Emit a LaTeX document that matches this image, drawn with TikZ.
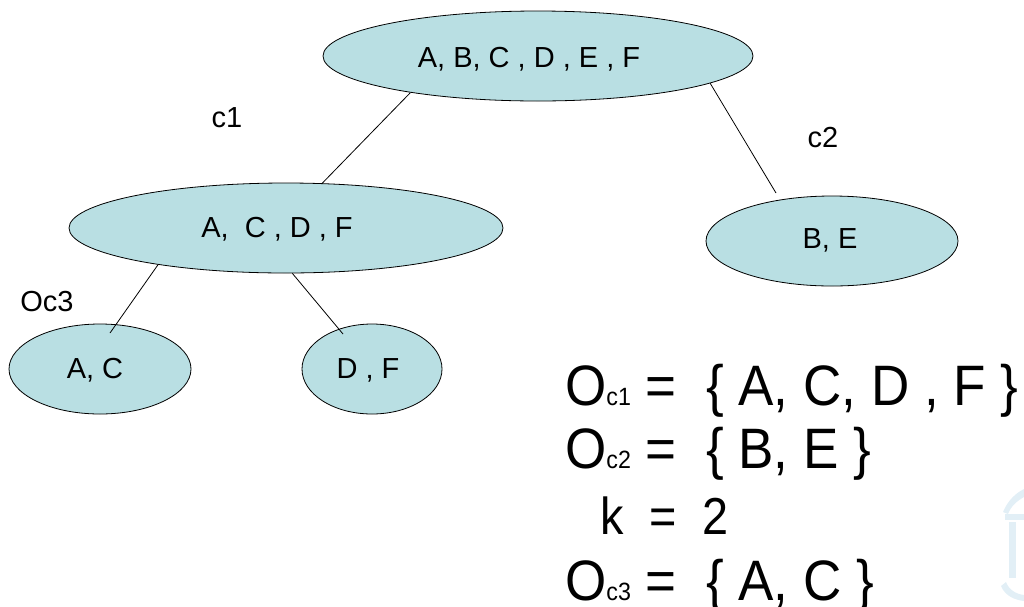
\documentclass[tikz,border=0pt]{standalone}
\usepackage{fontspec}
\usepackage{graphicx}
\setmainfont{Liberation Sans}
\usetikzlibrary{shapes.geometric}
\definecolor{blobfill}{RGB}{185,223,227}
\definecolor{logoblue}{RGB}{226,239,246}
\newcommand{\squeeze}[1]{\scalebox{0.93}[1]{#1}}
\newcommand{\sm}[1]{{\fontsize{25}{25}\selectfont #1}}
\begin{document}
\begin{tikzpicture}[x=1pt,y=-1pt,
  blob/.style={ellipse,draw=black,line width=0.8pt,fill=blobfill,inner sep=0pt,minimum height=90},
  lbl/.style={inner sep=0pt,font=\fontsize{29}{29}\selectfont},
  edge/.style={draw=black,line width=0.8pt},
  big/.style={inner sep=0pt,anchor=base west,font=\fontsize{57}{57}\selectfont}]
\useasboundingbox (0,0) rectangle (1024,606);
% faint logo
\fill[logoblue] (1003,512) .. controls (1008,500) and (1016,493) .. (1024,489) -- (1024,497) .. controls (1017,501) and (1011,506) .. (1008,514) -- cycle;
\fill[logoblue] (1005,514) rectangle (1024,520);
\fill[logoblue] (1009,522) rectangle (1016,578);
\fill[logoblue] (1001,586) .. controls (1005,596) and (1015,600) .. (1024,601) -- (1024,595) .. controls (1016,594) and (1009,590) .. (1006,582) -- cycle;
% ellipses
\node[blob,minimum width=430] (root) at (538,56) {};
\node[blob,minimum width=434] (acdf) at (286,228) {};
\node[blob,minimum width=252] (be) at (832,241) {};
\node[blob,minimum width=182] (ac) at (100,369) {};
\node[blob,minimum width=140] (df) at (372,369) {};
% texts in ellipses
\node[lbl] (roott) at (529,59) {A, B, C , D , E , F};
\node[lbl] (acdft) at (277,229) {A,\ \ C , D , F};
\node[lbl] (bet) at (830,240) {B, E};
\node[lbl] (act) at (95,370) {A, C};
\node[lbl] (dft) at (368,370) {D , F};
% connector ends
\coordinate (c2end) at (776,193);
\coordinate (acend) at (110,333);
\coordinate (dfend) at (343,334);
% connectors
\draw[edge] (root.196) -- (acdf.51);
\draw[edge] (root.-9) -- (c2end);
\draw[edge] (acdf.196) -- (acend);
\draw[edge] (acdf.-82) -- (dfend);
% labels
\node[lbl] (c1) at (227,118) {c1};
\node[lbl] (c2) at (823,138) {c2};
\node[lbl] (oc3) at (47,302) {Oc3};
% formulas
\node[big] (f1) at (565,405) {\squeeze{O\sm{c1} = \ \{ A, C, D , F \}}};
\node[big] (f2) at (565,468) {\squeeze{O\sm{c2} = \ \{ B, E \}}};
\node[big,font=\fontsize{52}{52}\selectfont] (f3) at (600,534) {\scalebox{0.9}[1]{k \ = \ 2}};
\node[big] (f4) at (565,600) {\squeeze{O\sm{c3} = \ \{ A, C \}}};
\end{tikzpicture}
\end{document}
